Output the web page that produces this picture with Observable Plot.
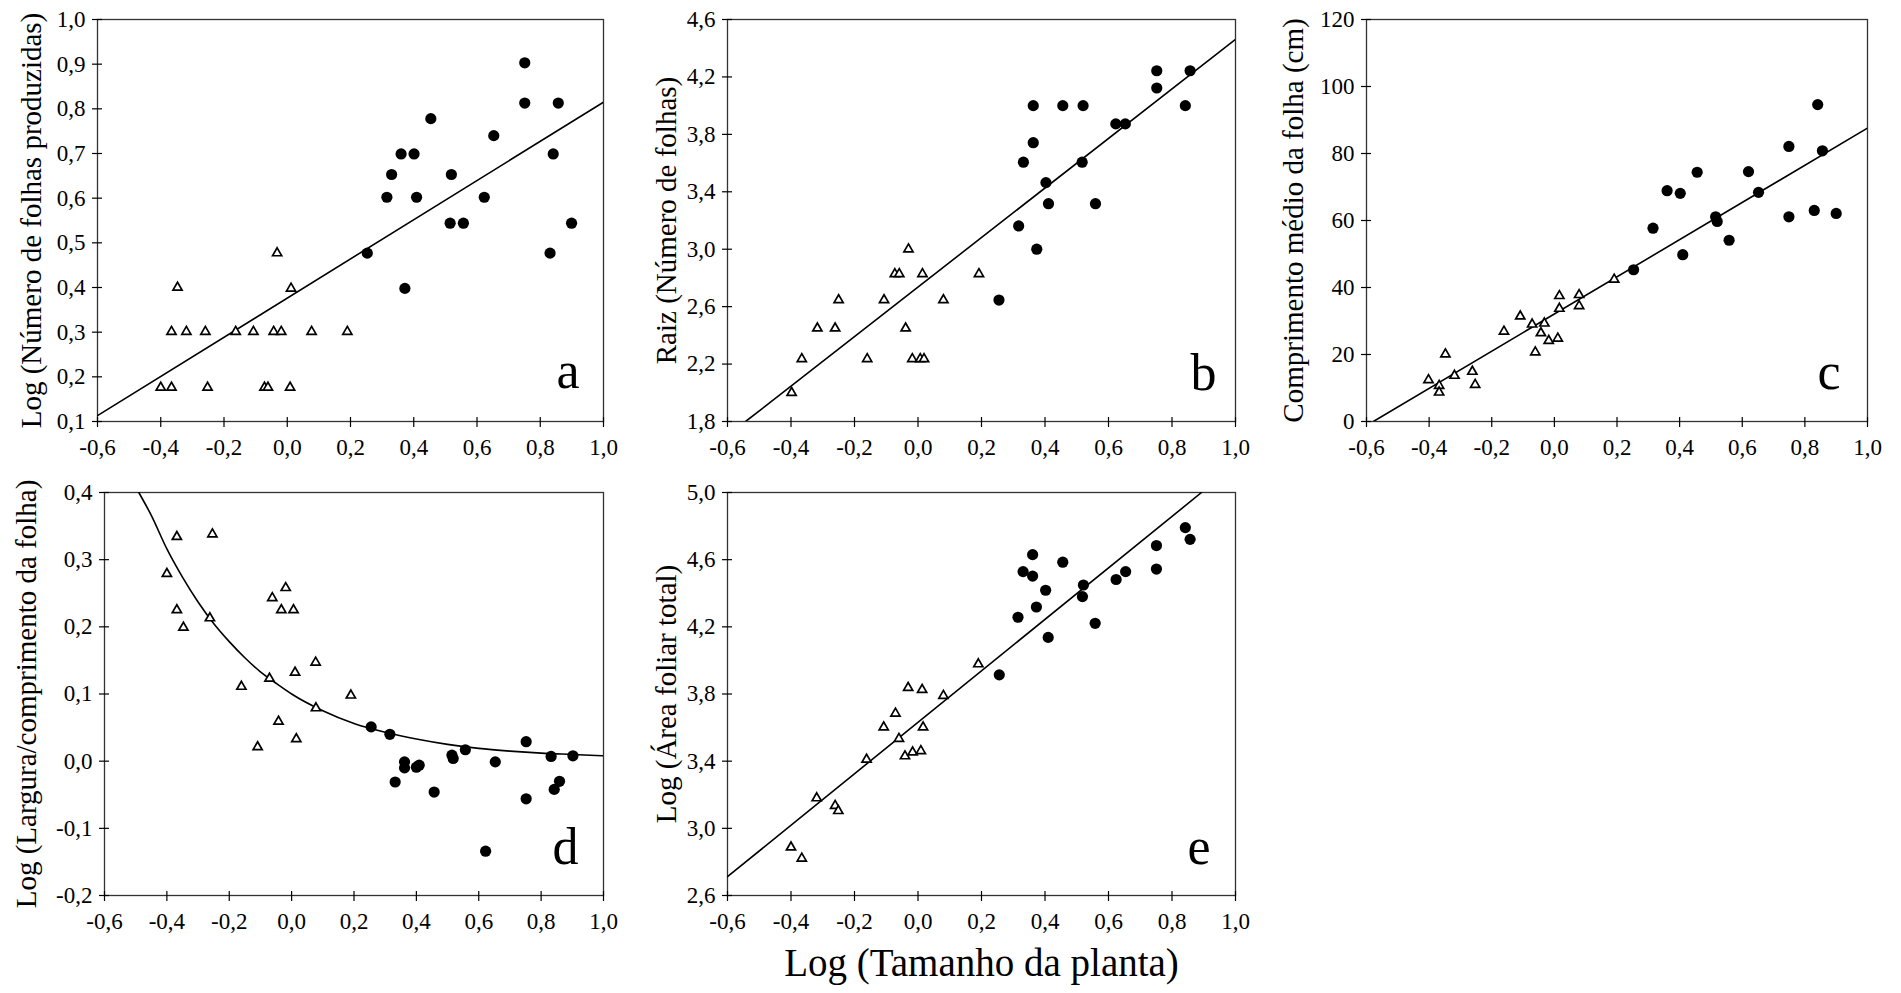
<!DOCTYPE html>
<html>
<head>
<meta charset="utf-8">
<script src="https://cdn.jsdelivr.net/npm/d3@7"></script>
<script src="https://cdn.jsdelivr.net/npm/@observablehq/plot@0.6"></script>
<style>
  html, body { margin: 0; padding: 0; background: #fff; }
  body { width: 1901px; height: 993px; position: relative; overflow: hidden; }
  .panel { position: absolute; }
  .panel svg { overflow: visible; }
  .panel svg text { font-family: "Liberation Serif", "Times New Roman", Times, serif !important; }
</style>
</head>
<body>
<div id="root"></div>
<script>
// ---------- shared ticks ----------
const xTicks = [-0.6, -0.4, -0.2, 0, 0.2, 0.4, 0.6, 0.8, 1.0];
const aYTicks = [0.1, 0.2, 0.3, 0.4, 0.5, 0.6, 0.7, 0.8, 0.9, 1.0];
const bYTicks = [1.8, 2.2, 2.6, 3.0, 3.4, 3.8, 4.2, 4.6];
const cYTicks = [0, 20, 40, 60, 80, 100, 120];
const dYTicks = [-0.2, -0.1, 0, 0.1, 0.2, 0.3, 0.4];
const eYTicks = [2.6, 3.0, 3.4, 3.8, 4.2, 4.6, 5.0];

// ---------- panel a ----------
const aTriX = [-0.400, -0.366, -0.347, -0.366, -0.319, -0.259, -0.252, -0.163, -0.107, -0.072, -0.061, -0.043, -0.019, -0.032, 0.012, 0.009, 0.077, 0.190];
const aTriY = [0.176, 0.176, 0.400, 0.301, 0.301, 0.301, 0.176, 0.301, 0.301, 0.176, 0.176, 0.301, 0.301, 0.477, 0.398, 0.176, 0.301, 0.301];
const aDotX = [0.253, 0.315, 0.330, 0.360, 0.401, 0.409, 0.372, 0.454, 0.515, 0.519, 0.557, 0.623, 0.653, 0.751, 0.751, 0.841, 0.857, 0.831, 0.899];
const aDotY = [0.477, 0.602, 0.653, 0.699, 0.699, 0.602, 0.398, 0.778, 0.544, 0.653, 0.544, 0.602, 0.740, 0.903, 0.813, 0.699, 0.813, 0.477, 0.544];
const aFitX = [-0.6, 1.0];
const aFitY = [0.113, 0.815];

// ---------- panel b ----------
const bTriX = [-0.398, -0.366, -0.317, -0.261, -0.250, -0.160, -0.107, -0.073, -0.059, -0.039, -0.030, -0.018, 0.007, 0.019, 0.014, 0.080, 0.192];
const bTriY = [2.000, 2.236, 2.449, 2.449, 2.646, 2.236, 2.646, 2.828, 2.828, 2.449, 3.000, 2.236, 2.236, 2.236, 2.828, 2.646, 2.828];
const bDotX = [0.255, 0.317, 0.332, 0.363, 0.363, 0.374, 0.403, 0.411, 0.456, 0.520, 0.517, 0.559, 0.623, 0.653, 0.752, 0.752, 0.842, 0.857];
const bDotY = [2.646, 3.162, 3.606, 4.000, 3.742, 3.000, 3.464, 3.317, 4.000, 4.000, 3.606, 3.317, 3.873, 3.873, 4.243, 4.123, 4.000, 4.243];
const bFitX = [-0.543, 1.0];
const bFitY = [1.8, 4.461];

// ---------- panel c ----------
const cTriX = [-0.402, -0.368, -0.368, -0.348, -0.319, -0.262, -0.253, -0.161, -0.109, -0.071, -0.061, -0.043, -0.032, -0.018, 0.011, 0.016, 0.016, 0.079, 0.079, 0.191];
const cTriY = [12.4, 10.7, 8.7, 20.1, 13.7, 14.9, 11.0, 26.9, 31.4, 29.0, 20.7, 26.4, 29.3, 24.1, 24.8, 37.5, 33.7, 37.8, 34.5, 42.4];
const cDotX = [0.253, 0.315, 0.360, 0.402, 0.410, 0.456, 0.515, 0.520, 0.558, 0.620, 0.652, 0.749, 0.749, 0.830, 0.841, 0.856, 0.900];
const cDotY = [45.3, 57.7, 68.9, 68.1, 49.8, 74.4, 61.1, 59.7, 54.1, 74.6, 68.4, 82.1, 61.1, 63.0, 94.6, 80.8, 62.1];
const cFitX = [-0.578, 1.0];
const cFitY = [0, 87.6];

// ---------- panel d ----------
const dTriX = [-0.400, -0.368, -0.368, -0.347, -0.254, -0.262, -0.161, -0.109, -0.071, -0.062, -0.042, -0.033, -0.019, 0.006, 0.011, 0.015, 0.077, 0.078, 0.190];
const dTriY = [0.279, 0.334, 0.225, 0.199, 0.338, 0.213, 0.111, 0.021, 0.123, 0.243, 0.059, 0.225, 0.258, 0.225, 0.132, 0.033, 0.147, 0.079, 0.098];
const dDotX = [0.255, 0.315, 0.332, 0.362, 0.362, 0.400, 0.409, 0.457, 0.514, 0.518, 0.557, 0.622, 0.653, 0.752, 0.752, 0.832, 0.842, 0.859, 0.902];
const dDotY = [0.051, 0.040, -0.031, -0.001, -0.010, -0.009, -0.006, -0.046, 0.009, 0.004, 0.017, -0.134, -0.001, 0.029, -0.056, 0.007, -0.042, -0.030, 0.008];
const dFitX = [-0.49, -0.45, -0.40, -0.35, -0.30, -0.25, -0.20, -0.15, -0.10, -0.05, 0.00, 0.10, 0.20, 0.30, 0.40, 0.50, 0.60, 0.70, 0.80, 0.90, 1.00];
const dFitY = [0.400, 0.366, 0.316, 0.274, 0.237, 0.205, 0.178, 0.154, 0.133, 0.116, 0.100, 0.075, 0.056, 0.043, 0.033, 0.025, 0.019, 0.015, 0.012, 0.010, 0.008];

// ---------- panel e ----------
const eTriX = [-0.400, -0.366, -0.319, -0.261, -0.251, -0.162, -0.108, -0.071, -0.060, -0.041, -0.031, -0.017, 0.009, 0.013, 0.016, 0.080, 0.190];
const eTriY = [2.887, 2.821, 3.180, 3.135, 3.104, 3.410, 3.602, 3.684, 3.534, 3.430, 3.837, 3.453, 3.461, 3.825, 3.602, 3.790, 3.978];
const eDotX = [0.256, 0.315, 0.331, 0.361, 0.361, 0.373, 0.402, 0.410, 0.456, 0.518, 0.521, 0.558, 0.624, 0.654, 0.751, 0.751, 0.842, 0.857];
const eDotY = [3.914, 4.257, 4.529, 4.630, 4.502, 4.318, 4.418, 4.137, 4.585, 4.380, 4.449, 4.221, 4.482, 4.529, 4.684, 4.544, 4.791, 4.721];
const eFitX = [-0.6, 0.893];
const eFitY = [2.712, 5.0];

// ---------- texts ----------
const xLabel = "Log (Tamanho da planta)";
const titles = {
  a: "Log (Número de folhas produzidas)",
  b: "Raiz (Número de folhas)",
  c: "Comprimento médio da folha (cm)",
  d: "Log (Largura/comprimento da folha)",
  e: "Log (Área foliar total)"
};

// ---------- drawing ----------
const FONT = '"Liberation Serif", "Times New Roman", Times, serif';
const TICK_FS = 23;
const comma = d => (Math.abs(d) < 1e-9 ? 0 : d).toFixed(1).replace(".", ",");
const intFmt = d => String(Math.round(d));
const pts = (xs, ys) => xs.map((x, i) => ({x, y: ys[i]}));

function panel(o) {
  const [L, T, R, B] = o.frame;
  const mL = 110, mR = 12, mT = 12, mB = o.marginBottom || 50;
  const width = R - L + mL + mR;
  const height = B - T + mT + mB;
  const marks = [
    Plot.frame({stroke: "#333", strokeWidth: 1.3}),
    // tick lines (crossing the axis)
    Plot.axisX({ticks: xTicks, tickFormat: () => "", tickSize: 6, label: null, strokeWidth: 1.2}),
    Plot.axisX({ticks: xTicks, tickFormat: () => "", tickSize: -4, label: null, strokeWidth: 1.2}),
    Plot.axisY({ticks: o.yTicks, tickFormat: () => "", tickSize: 5, label: null, strokeWidth: 1.2}),
    Plot.axisY({ticks: o.yTicks, tickFormat: () => "", tickSize: -5, label: null, strokeWidth: 1.2}),
    // tick labels
    Plot.text(xTicks, {x: d => d, text: comma, frameAnchor: "bottom", dy: 17, lineAnchor: "top", textAnchor: "middle", fontSize: TICK_FS, fill: "#000"}),
    Plot.text(o.yTicks, {y: d => d, text: o.yFormat, frameAnchor: "left", dx: -12, lineAnchor: "middle", textAnchor: "end", fontSize: TICK_FS, fill: "#000"}),
    // data
    Plot.line(pts(o.fitX, o.fitY), {x: "x", y: "y", stroke: "#000", strokeWidth: 1.6, clip: true, curve: o.curve || "linear"}),
    Plot.dot(pts(o.triX, o.triY), {x: "x", y: "y", symbol: "triangle", r: 3.4, stroke: "#000", strokeWidth: 1.7, fill: "#fff"}),
    Plot.dot(pts(o.dotX, o.dotY), {x: "x", y: "y", symbol: "circle", r: 5.6, fill: "#000", stroke: "none"}),
    // titles
    Plot.text([o.title], {text: d => d, frameAnchor: "left", dx: -o.titleOffset, rotate: -90, textAnchor: "middle", lineAnchor: "bottom", fontSize: 29, fill: "#000"}),
    Plot.text([o.letter], {text: d => d, frameAnchor: "bottom-right", dx: -o.letterDx, dy: -o.letterDy, textAnchor: "end", lineAnchor: "bottom", fontSize: 52, fill: "#000"})
  ];
  if (o.extra) marks.push(...o.extra);
  const svg = Plot.plot({
    width, height,
    marginLeft: mL, marginRight: mR, marginTop: mT, marginBottom: mB,
    style: {fontFamily: FONT, fontSize: "23px", color: "#000", background: "transparent", overflow: "visible"},
    x: {domain: [-0.6, 1.0]},
    y: {domain: o.yDomain},
    marks
  });
  const div = document.createElement("div");
  div.className = "panel";
  div.style.left = (L - mL) + "px";
  div.style.top = (T - mT) + "px";
  div.appendChild(svg);
  document.getElementById("root").appendChild(div);
}

panel({frame: [97, 19, 603, 421], yDomain: [0.1, 1.0], yTicks: aYTicks, yFormat: comma,
  triX: aTriX, triY: aTriY, dotX: aDotX, dotY: aDotY, fitX: aFitX, fitY: aFitY,
  title: titles.a, titleOffset: 57, letter: "a", letterDx: 24, letterDy: 34});
panel({frame: [727, 19, 1235, 421], yDomain: [1.8, 4.6], yTicks: bYTicks, yFormat: comma,
  triX: bTriX, triY: bTriY, dotX: bDotX, dotY: bDotY, fitX: bFitX, fitY: bFitY,
  title: titles.b, titleOffset: 52, letter: "b", letterDx: 19, letterDy: 32});
panel({frame: [1366, 19, 1867, 421], yDomain: [0, 120], yTicks: cYTicks, yFormat: intFmt,
  triX: cTriX, triY: cTriY, dotX: cDotX, dotY: cDotY, fitX: cFitX, fitY: cFitY,
  title: titles.c, titleOffset: 64, letter: "c", letterDx: 27, letterDy: 33});
panel({frame: [104, 492, 603, 895], yDomain: [-0.2, 0.4], yTicks: dYTicks, yFormat: comma,
  triX: dTriX, triY: dTriY, dotX: dDotX, dotY: dDotY, fitX: dFitX, fitY: dFitY, curve: "monotone-x",
  title: titles.d, titleOffset: 69, letter: "d", letterDx: 25, letterDy: 32});
panel({frame: [727, 492, 1235, 895], yDomain: [2.6, 5.0], yTicks: eYTicks, yFormat: comma,
  triX: eTriX, triY: eTriY, dotX: eDotX, dotY: eDotY, fitX: eFitX, fitY: eFitY,
  title: titles.e, titleOffset: 52, letter: "e", letterDx: 25, letterDy: 32,
  marginBottom: 96,
  extra: [Plot.text([xLabel], {text: d => d, frameAnchor: "bottom", dy: 80, textAnchor: "middle", lineAnchor: "bottom", fontSize: 39, fill: "#000"})]});
</script>
</body>
</html>
